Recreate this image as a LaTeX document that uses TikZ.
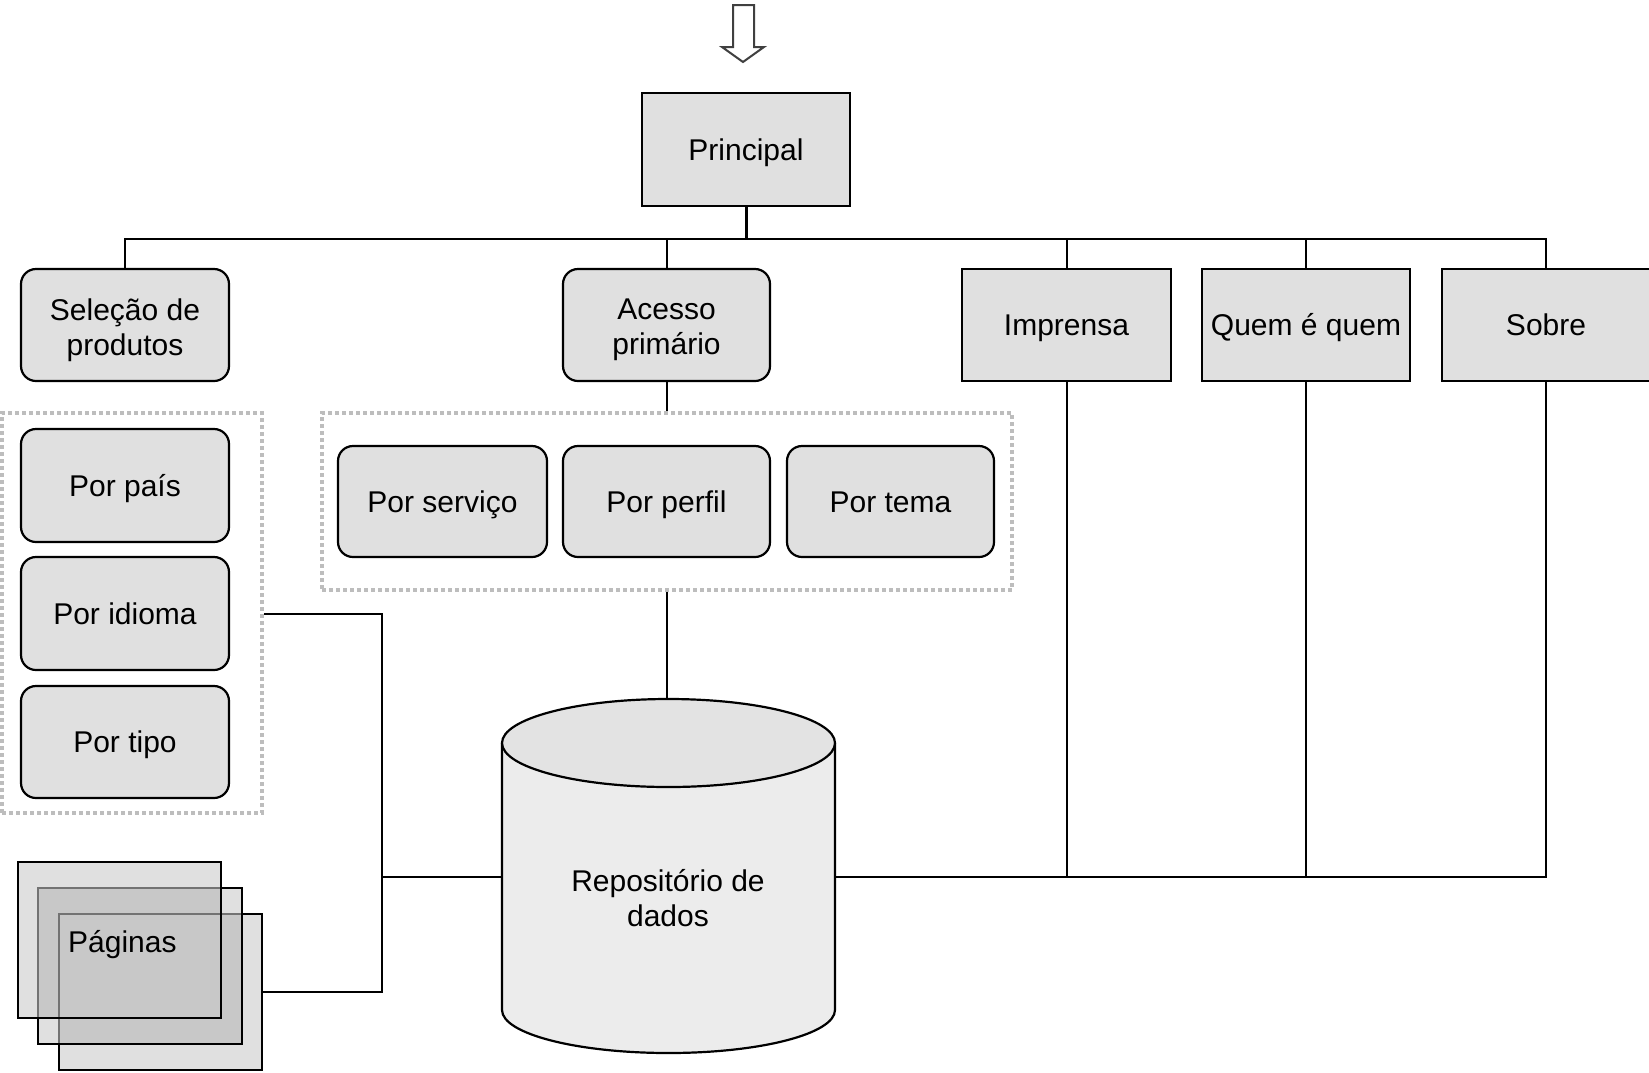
\documentclass[tikz,border=0pt]{standalone}
\usepackage{fontspec}
\setmainfont{Liberation Sans}
\definecolor{boxfill}{HTML}{E0E0E0}
\definecolor{ovfill}{HTML}{C8C8C8}
\definecolor{cylbody}{HTML}{ECECEC}
\definecolor{cyltopc}{HTML}{E3E3E3}
\definecolor{dotgray}{HTML}{BDBDBD}
\tikzset{
  basebox/.style={draw=black, line width=2.2pt, fill=boxfill, inner sep=0pt,
    align=center, font=\fontsize{30}{35}\selectfont, text height=21.5pt, text depth=0pt},
  sqbox/.style={basebox},
  rbox/.style={basebox, rounded corners=15pt},
  dotbox/.style={draw=dotgray, line width=3.8pt, dash pattern=on 3.6pt off 3.4pt, inner sep=0pt},
  conn/.style={draw=black, line width=2pt},
  pagebox/.style={draw=none, fill=boxfill, inner sep=0pt},
  pageedge/.style={draw=black!55, line width=2pt},
  pageline/.style={draw=black, line width=2pt},
  lbl/.style={font=\fontsize{30}{35}\selectfont, align=center, inner sep=0pt}
}
\begin{document}
\begin{tikzpicture}[x=1pt,y=-1pt]
\useasboundingbox (0,0) rectangle (1649,1072);

% top arrow
\draw[line width=2pt, draw=black!75, fill=white, line join=miter]
  (733,5) -- (754,5) -- (754,47) -- (764,47) -- (743,62) -- (722,47) -- (733,47) -- cycle;

% main boxes
\node[sqbox, minimum width=208pt, minimum height=113pt] (principal) at (746,149.5) {Principal};
\node[rbox, minimum width=208pt, minimum height=112pt] (selecao) at (125,325) {};
\node[lbl] (selecaot) at ([yshift=-5pt]selecao.center) {Seleção de\\produtos};
\node[rbox, minimum width=207pt, minimum height=112pt] (acesso) at (666.5,325) {};
\node[lbl] (acessot) at ([yshift=-5pt]acesso.center) {Acesso\\primário};
\node[sqbox, minimum width=209pt, minimum height=112pt] (imprensa) at (1066.5,325) {Imprensa};
\node[sqbox, minimum width=208pt, minimum height=112pt] (quem) at (1306,325) {Quem é quem};
\node[sqbox, minimum width=208pt, minimum height=112pt] (sobre) at (1546,325) {Sobre};

% groups
\node[dotbox, minimum width=260pt, minimum height=400pt] (grpL) at (132,613) {};
\node[dotbox, minimum width=690pt, minimum height=177pt] (grpC) at (667,501.5) {};

\node[rbox, minimum width=208pt, minimum height=113pt] (pais) at (125,485.5) {Por país};
\node[rbox, minimum width=208pt, minimum height=113pt] (idioma) at (125,613.5) {Por idioma};
\node[rbox, minimum width=208pt, minimum height=112pt] (tipo) at (125,742) {Por tipo};

\node[rbox, minimum width=209pt, minimum height=111pt] (servico) at (442.5,501.5) {Por serviço};
\node[rbox, minimum width=207pt, minimum height=111pt] (perfil) at (666.5,501.5) {Por perfil};
\node[rbox, minimum width=207pt, minimum height=111pt] (tema) at (890.5,501.5) {Por tema};

% cylinder
\fill[cylbody] (502,743) -- (502,1010) arc[start angle=180, end angle=0, x radius=166.5, y radius=43] -- (835,743) -- cycle;
\draw[line width=2.2pt] (502,743) -- (502,1010) arc[start angle=180, end angle=0, x radius=166.5, y radius=43] -- (835,743);
\draw[line width=2.2pt, fill=cyltopc] (668.5,743) ellipse[x radius=166.5, y radius=44];
\node[lbl] (repo) at (668,898) {Repositório de\\dados};
\coordinate (cyltop) at (668,699);
\coordinate (cylL) at (502,877);
\coordinate (cylR) at (835,877);

% pages (p3 bottom, p1 top)
\node[pagebox, minimum width=203pt, minimum height=156pt] (p3) at (160.5,992) {};
\node[pagebox, minimum width=204pt, minimum height=156pt] (p2) at (140,966) {};
\node[pagebox, minimum width=203pt, minimum height=156pt] (p1) at (119.5,940) {};
\fill[ovfill] (p2.north west) rectangle (p1.south east);
\fill[ovfill] (p3.north west) rectangle (p2.south east);
\draw[pageedge] (p2.north west -| p1.east) -- (p2.north west) -- (p2.north west |- p1.south);
\draw[pageedge] (p3.north west -| p2.east) -- (p3.north west) -- (p3.north west |- p2.south);
\draw[pageline] (p1.north west) rectangle (p1.south east);
\draw[pageline] (p2.north west -| p1.east) -- (p2.north east) -- (p2.south east) -- (p2.south west) -- (p2.north west |- p1.south);
\draw[pageline] (p3.north west -| p2.east) -- (p3.north east) -- (p3.south east) -- (p3.south west) -- (p3.north west |- p2.south);
\node[lbl, anchor=base west] (pag) at (68,952) {Páginas};

% connectors
\coordinate (bar) at (746,239);
\draw[conn, line width=3pt] (principal.south) -- (bar);
\draw[conn] (selecao.north) |- (bar);
\draw[conn] (sobre.north) |- (bar);
\draw[conn] (acesso.north) |- (bar);
\draw[conn] (imprensa.north) |- (bar);
\draw[conn] (quem.north) |- (bar);

\draw[conn] (acesso.south) -- (acesso.south |- grpC.north);
\draw[conn] (grpC.south) -- (grpC.south |- cyltop);

\coordinate (jL) at (382,877);
\draw[conn] (grpL.east |- idioma.center) -| (jL) |- (p3.east);
\draw[conn] (jL) -- (cylL);

\draw[conn] (cylR) -| (sobre.south);
\draw[conn] (imprensa.south) -- (imprensa.south |- cylR);
\draw[conn] (quem.south) -- (quem.south |- cylR);
\end{tikzpicture}
\end{document}
